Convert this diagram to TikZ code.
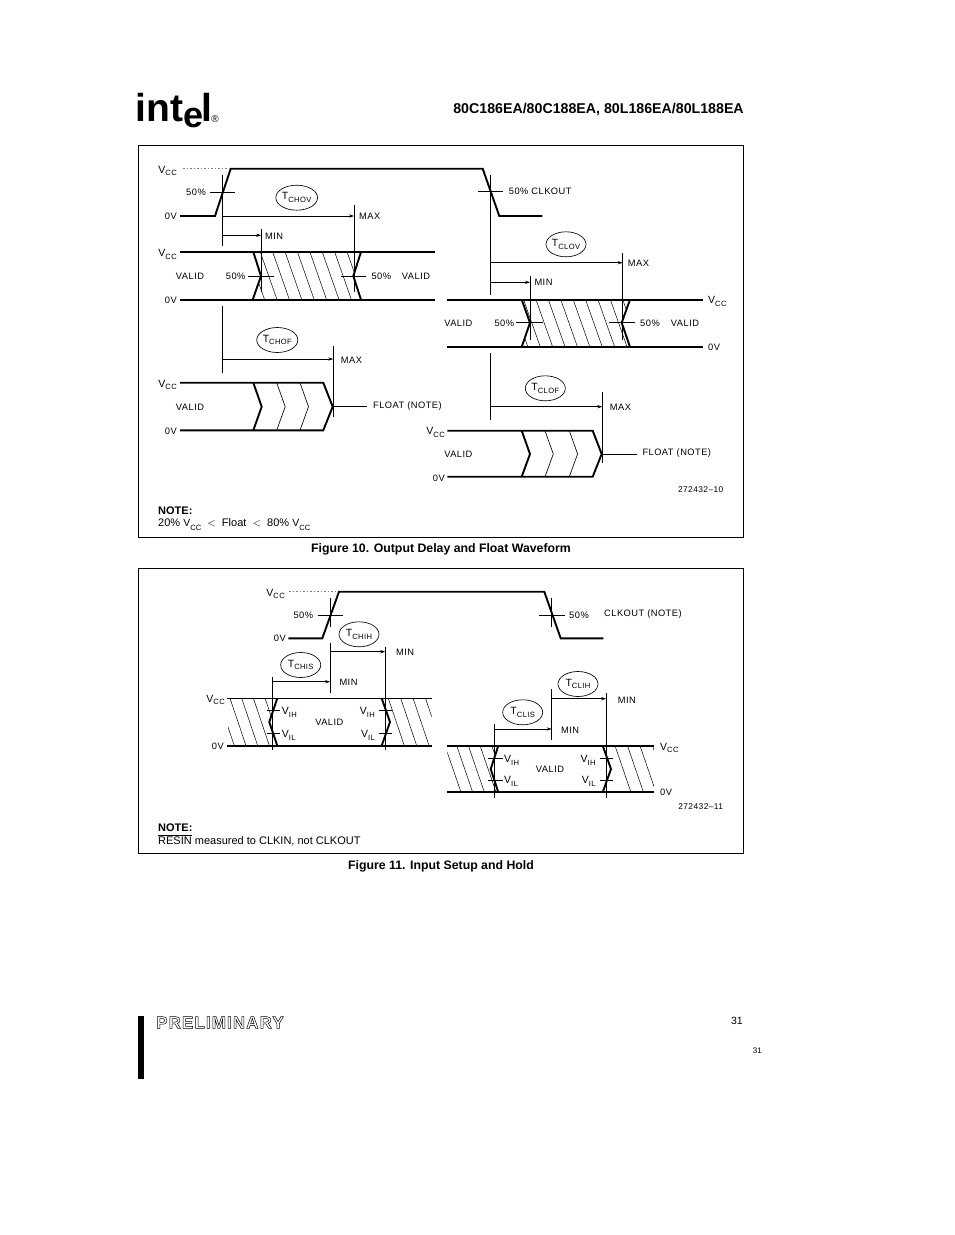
\documentclass[tikz,border=0pt]{standalone}
\usepackage{fontspec}
\setmainfont{Liberation Sans}
\newfontfamily\lblfont[LetterSpace=5]{Liberation Sans}
\newfontfamily\prelimfont[LetterSpace=6.5]{Liberation Sans}
\usetikzlibrary{arrows.meta,calc,positioning,shapes.geometric}

\newcommand{\vsub}[2]{{\fontsize{10.5}{11}\selectfont #1}\raisebox{-0.3em}{\fontsize{7.6}{8}\selectfont #2}}

\tikzset{
  wave/.style={line width=1.9pt},
  rail/.style={line width=1.9pt},
  fine/.style={line width=0.65pt},
  hatch/.style={line width=0.5pt},
  dim/.style={line width=0.65pt,-{Stealth[length=5pt,width=3.2pt]}},
  sig/.style={font=\lblfont\fontsize{9.3}{10}\selectfont,inner sep=0pt},
  sigl/.style={sig,anchor=west},
  sigr/.style={sig,anchor=east},
  oval/.style={draw,ellipse,line width=0.65pt,minimum width=40pt,minimum height=25pt,inner sep=0pt,font=\lblfont\fontsize{9}{10}\selectfont},
  body/.style={font=\fontsize{11}{13}\selectfont,inner sep=0pt,anchor=west},
  head/.style={font=\bfseries\fontsize{12.3}{14}\selectfont,inner sep=0pt},
  code/.style={font=\lblfont\fontsize{8.4}{10}\selectfont,inner sep=0pt}
}

\begin{document}
\begin{tikzpicture}[x=1pt,y=-1pt]
  \useasboundingbox (0,0) rectangle (954,1235);

  % Page header
  \node [inner sep=0pt,anchor=base west,font=\bfseries\fontsize{39}{40}\selectfont] (logoint) at (135.5,121.7) {int};
  \node [inner sep=0pt,anchor=base west,font=\bfseries\fontsize{36}{40}\selectfont] (logoe) at (183,127) {e};
  \node [inner sep=0pt,anchor=base west,font=\bfseries\fontsize{39}{40}\selectfont] (logol) at (201,121.7) {l};
  \node [inner sep=0pt,font=\fontsize{10}{11}\selectfont] (logor) at (215,119) {®};
  \node [head,anchor=east,font=\bfseries\fontsize{14.2}{16}\selectfont] (title) at (744,109.5) {80C186EA/80C188EA, 80L186EA/80L188EA};

  % Frames
  \draw [line width=0.9pt] (138.3,145.5) rectangle (743.5,537.7);
  \draw [line width=0.9pt] (138.3,568.5) rectangle (743.5,853);

  % Figure 10, clock
  \draw [wave] (180,216) -- (215,216) -- (230.7,168.7) -- (482.7,168.7) -- (499.3,216) -- (542.3,216);
  \draw [fine,gray,dash pattern=on 1.5pt off 2pt] (183,168.7) -- (229,168.7);
  \node [sigr] (vcca) at (177,171) {\vsub{V}{CC}};
  \node [sigr] (ova) at (177,216) {0V};
  \node [sig] (pcta) at (196,192) {50\%};
  \draw [fine] (210,192.3) -- (235,192.3);
  \draw [fine] (222.3,175) -- (222.3,246);
  \node [sigl] (pctb) at (508.7,191) {50\% CLKOUT};
  \draw [fine] (478.3,191.7) -- (503.3,191.7);
  \draw [fine] (490.3,175) -- (490.3,295);

  % Figure 10, T_CHOV row
  \node [oval] (chov) at (296.7,197.7) {\vsub{T}{CHOV}};
  \coordinate (chova) at (222.3,216);
  \coordinate (chovb) at (354,216);
  \coordinate (chovc) at (222.3,235.3);
  \coordinate (chovd) at (261.3,235.3);
  \draw [dim] (chova) -- (chovb);
  \draw [dim] (chovc) -- (chovd);
  \draw [fine] (354,205) -- (354,292);
  \draw [fine] (261.3,229) -- (261.3,292);
  \node [sigl] (chovmax) at (359,216) {MAX};
  \node [sigl] (chovmin) at (265,236) {MIN};
  \begin{scope}
    \clip (253.3,252) -- (261,276) -- (252.7,300) -- (361,300) -- (353.3,276) -- (361,252) -- cycle;
    \foreach \k in {-2,...,6}
      \draw [hatch] ({272.7+12.4*\k},252) -- ++(16.7,47.7);
  \end{scope}
  \draw [rail] (180,252) -- (435,252);
  \draw [rail] (180,299.7) -- (435,299.7);
  \draw [wave] (253.3,252) -- (261,276) -- (252.7,299.7);
  \draw [wave] (361,252) -- (353.3,276) -- (361,299.7);
  \draw [fine] (248,276) -- (274,276);
  \draw [fine] (340.7,276) -- (366,276);
  \node [sigr] (vccb) at (177,254.5) {\vsub{V}{CC}};
  \node [sigr] (ovb) at (177,300) {0V};
  \node [sig] (valida) at (190,276.7) {VALID};
  \node [sig] (pctc) at (235.7,276.7) {50\%};
  \node [sig] (pctd) at (381.3,276.7) {50\%};
  \node [sig] (validb) at (416,276.7) {VALID};

  % Figure 10, T_CHOF row
  \draw [fine] (222.3,306) -- (222.3,372.7);
  \node [oval] (chof) at (277.3,340) {\vsub{T}{CHOF}};
  \coordinate (chofa) at (222.3,359);
  \coordinate (chofb) at (333.3,359);
  \draw [dim] (chofa) -- (chofb);
  \draw [fine] (333.3,346) -- (333.3,417.3);
  \node [sigl] (chofmax) at (340.7,360) {MAX};
  \draw [rail] (180,382.7) -- (323.3,382.7) -- (332.7,406.7) -- (323.3,430.3) -- (180,430.3);
  \draw [wave] (253.3,382.7) -- (261.7,406.7) -- (253.3,430.3);
  \foreach \xa in {276.7,300}
    \draw [fine] (\xa,382.7) -- ({\xa+8.5},406.7) -- (\xa,430.3);
  \draw [fine] (332.7,406.7) -- (367.3,406.7);
  \node [sigr] (vccc) at (177,385) {\vsub{V}{CC}};
  \node [sigr] (ovc) at (177,431) {0V};
  \node [sig] (validc) at (190,407) {VALID};
  \node [sigl] (floata) at (373,406.5) {FLOAT (NOTE)};

  % Figure 10, T_CLOV row
  \node [oval] (clov) at (566,244.3) {\vsub{T}{CLOV}};
  \coordinate (clova) at (490.3,262.7);
  \coordinate (clovb) at (622.7,262.7);
  \coordinate (clovc) at (490.3,282.3);
  \coordinate (clovd) at (530,282.3);
  \draw [dim] (clova) -- (clovb);
  \draw [dim] (clovc) -- (clovd);
  \draw [fine] (622.7,252.7) -- (622.7,340);
  \draw [fine] (530,276) -- (530,340);
  \node [sigl] (clovmax) at (627.7,263) {MAX};
  \node [sigl] (clovmin) at (534.3,282.5) {MIN};
  \begin{scope}
    \clip (521.7,299.7) -- (530,322.7) -- (521.7,347) -- (630,347) -- (621.7,322.7) -- (630,299.7) -- cycle;
    \foreach \k in {-2,...,7}
      \draw [hatch] ({536+12.4*\k},299.7) -- ++(16.7,47.3);
  \end{scope}
  \draw [rail] (447.3,299.7) -- (703.3,299.7);
  \draw [rail] (447.3,347) -- (703.3,347);
  \draw [wave] (521.7,299.7) -- (530,322.7) -- (521.7,347);
  \draw [wave] (630,299.7) -- (621.7,322.7) -- (630,347);
  \draw [fine] (516,322.7) -- (543.3,322.7);
  \draw [fine] (609,322.7) -- (634.7,322.7);
  \node [sigl] (vccd) at (708,301.5) {\vsub{V}{CC}};
  \node [sigl] (ovd) at (708,347) {0V};
  \node [sig] (validd) at (458.3,323.7) {VALID};
  \node [sig] (pcte) at (504.3,323.7) {50\%};
  \node [sig] (pctf) at (650,323.7) {50\%};
  \node [sig] (valide) at (685,323.7) {VALID};

  % Figure 10, T_CLOF row
  \draw [fine] (490.3,353) -- (490.3,420);
  \node [oval] (clof) at (545.3,388.3) {\vsub{T}{CLOF}};
  \coordinate (clofa) at (490.3,406.7);
  \coordinate (clofb) at (602.3,406.7);
  \draw [dim] (clofa) -- (clofb);
  \draw [fine] (602.3,392.3) -- (602.3,463.3);
  \node [sigl] (clofmax) at (609.7,407) {MAX};
  \draw [rail] (447.3,430.7) -- (592.7,430.7) -- (601.7,454) -- (592.7,476.7) -- (447.3,476.7);
  \draw [wave] (521.7,430.7) -- (530,454) -- (521.7,476.7);
  \foreach \xa in {545,569.3}
    \draw [fine] (\xa,430.7) -- ({\xa+8.3},454) -- (\xa,476.7);
  \draw [fine] (601.7,454) -- (637.3,454);
  \node [sigr] (vcce) at (445,432.5) {\vsub{V}{CC}};
  \node [sigr] (ove) at (445,478) {0V};
  \node [sig] (validf) at (458.3,454) {VALID};
  \node [sigl] (floatb) at (642.3,453.5) {FLOAT (NOTE)};
  \node [code] (codea) at (700.7,490) {272432–10};

  % Figure 10, note and caption
  \node [body,font=\bfseries\fontsize{11}{13}\selectfont] (notea) at (158,511) {NOTE:};
  \node [body] (noteb) at (158,524.5) {20\% \vsub{V}{CC}\ \ $<$\ \ Float\ \ $<$\ \ 80\% \vsub{V}{CC}};
  \node [head] (capa) at (441,549) {Figure 10. Output Delay and Float Waveform};

  % Figure 11, clock
  \draw [wave] (288.3,638.3) -- (322.3,638.3) -- (339,591.7) -- (544.3,591.7) -- (560.7,638.3) -- (603.3,638.3);
  \draw [fine,gray,dash pattern=on 1.5pt off 2pt] (289,591.7) -- (338,591.7);
  \node [sigr] (vccf) at (285,594) {\vsub{V}{CC}};
  \node [sigr] (ovf) at (286,638) {0V};
  \node [sig] (pctg) at (303.3,615) {50\%};
  \draw [fine] (318.3,615) -- (343.3,615);
  \draw [fine] (330,598) -- (330,627);
  \node [sig] (pcth) at (579,615) {50\%};
  \node [sigl] (clkout) at (604,614) {CLKOUT (NOTE)};
  \draw [fine] (539,615) -- (565,615);
  \draw [fine] (551.7,598) -- (551.7,626.7);

  % Figure 11, T_CHIH and T_CHIS row
  \node [oval] (chih) at (359,634.3) {\vsub{T}{CHIH}};
  \node [oval] (chis) at (300.7,665) {\vsub{T}{CHIS}};
  \coordinate (chiha) at (330,651.7);
  \coordinate (chihb) at (385.3,651.7);
  \coordinate (chisa) at (272.7,681.7);
  \coordinate (chisb) at (330,681.7);
  \draw [dim] (chiha) -- (chihb);
  \draw [dim] (chisa) -- (chisb);
  \draw [fine] (330,642.7) -- (330,692.7);
  \draw [fine] (385.3,646.7) -- (385.3,750);
  \draw [fine] (272.7,677.3) -- (272.7,750);
  \node [sigl] (chihmin) at (396,652) {MIN};
  \node [sigl] (chismin) at (339.3,682) {MIN};
  \begin{scope}
    \clip (228,698.3) -- (277.3,698.3) -- (269.3,722) -- (277.3,745.7) -- (228,745.7) -- cycle;
    \foreach \k in {-1,...,3}
      \draw [hatch] ({230+11.7*\k},698.3) -- ++(16,47.4);
  \end{scope}
  \begin{scope}
    \clip (381.7,698.3) -- (431.7,698.3) -- (431.7,745.7) -- (381.7,745.7) -- (390,722) -- cycle;
    \foreach \k in {0,...,3}
      \draw [hatch] ({388.3+12.4*\k},698.3) -- ++(16,47.4);
  \end{scope}
  \draw [line width=1.3pt] (226.7,698.3) -- (431.7,698.3);
  \draw [rail] (226.7,745.7) -- (431.7,745.7);
  \draw [wave] (277.3,698.3) -- (269.3,722) -- (277.3,745.7);
  \draw [wave] (381.7,698.3) -- (390,722) -- (381.7,745.7);
  \foreach \ya in {710.7,733.3} {
    \draw [fine] (267.3,\ya) -- (280,\ya);
    \draw [fine] (379,\ya) -- (391.7,\ya);
  }
  \node [sigl] (viha) at (281.7,712) {\vsub{V}{IH}};
  \node [sigl] (vila) at (281.7,735) {\vsub{V}{IL}};
  \node [sigr] (vihb) at (375,712) {\vsub{V}{IH}};
  \node [sigr] (vilb) at (375,735) {\vsub{V}{IL}};
  \node [sig] (validg) at (329.3,722) {VALID};
  \node [sigr] (vccg) at (225,700) {\vsub{V}{CC}};
  \node [sigr] (ovg) at (224,746) {0V};

  % Figure 11, T_CLIH and T_CLIS row
  \node [oval] (clih) at (578,684) {\vsub{T}{CLIH}};
  \node [oval] (clis) at (522.7,712.3) {\vsub{T}{CLIS}};
  \coordinate (cliha) at (551.7,698.7);
  \coordinate (clihb) at (606,698.7);
  \coordinate (clisa) at (494.3,729);
  \coordinate (clisb) at (551.7,729);
  \draw [dim] (cliha) -- (clihb);
  \draw [dim] (clisa) -- (clisb);
  \draw [fine] (551.7,689.3) -- (551.7,740);
  \draw [fine] (606,693.3) -- (606,798.3);
  \draw [fine] (494.3,724.3) -- (494.3,798.3);
  \node [sigl] (clihmin) at (617.7,700) {MIN};
  \node [sigl] (clismin) at (561,730) {MIN};
  \begin{scope}
    \clip (447.3,745.7) -- (498.3,745.7) -- (490.7,769) -- (498.3,792.3) -- (447.3,792.3) -- cycle;
    \foreach \k in {-1,...,3}
      \draw [hatch] ({456.7+11.7*\k},745.7) -- ++(16,46.6);
  \end{scope}
  \begin{scope}
    \clip (602.7,745.7) -- (654,745.7) -- (654,792.3) -- (602.7,792.3) -- (611,769) -- cycle;
    \foreach \k in {0,...,3}
      \draw [hatch] ({615+12.5*\k},745.7) -- ++(16,46.6);
  \end{scope}
  \draw [rail] (447.3,745.7) -- (654,745.7);
  \draw [rail] (447.3,792.3) -- (654,792.3);
  \draw [wave] (498.3,745.7) -- (490.7,769) -- (498.3,792.3);
  \draw [wave] (602.7,745.7) -- (611,769) -- (602.7,792.3);
  \foreach \ya in {758.3,780} {
    \draw [fine] (488.3,\ya) -- (502.7,\ya);
    \draw [fine] (600,\ya) -- (613.3,\ya);
  }
  \node [sigl] (vihc) at (504,760) {\vsub{V}{IH}};
  \node [sigl] (vilc) at (504,781.5) {\vsub{V}{IL}};
  \node [sigr] (vihd) at (595.7,760) {\vsub{V}{IH}};
  \node [sigr] (vild) at (595.7,781.5) {\vsub{V}{IL}};
  \node [sig] (validh) at (550,769) {VALID};
  \node [sigl] (vcch) at (660,748) {\vsub{V}{CC}};
  \node [sigl] (ovh) at (660,792) {0V};
  \node [code] (codeb) at (700.7,806.7) {272432–11};

  % Figure 11, note and caption
  \node [body,font=\bfseries\fontsize{11}{13}\selectfont] (notec) at (158,828) {NOTE:};
  \node [body] (noted) at (158,840.5) {$\overline{\mbox{RESIN}}$ measured to CLKIN, not CLKOUT};
  \node [head] (capb) at (441,866) {Figure 11. Input Setup and Hold};

  % Page footer
  \fill (138,1015.7) rectangle (144.3,1079);
  \node [inner sep=0pt,anchor=west,font=\prelimfont\bfseries\fontsize{17}{19}\selectfont] (prelim) at (156,1022.5)
    {\special{pdf:literal direct 1 Tr 0.5 w}PRELIMINARY\special{pdf:literal direct 0 Tr}};
  \node [inner sep=0pt,anchor=east,font=\fontsize{10.5}{12}\selectfont] (pagea) at (743,1021) {31};
  \node [inner sep=0pt,anchor=east,font=\fontsize{8}{9}\selectfont] (pageb) at (762,1051) {31};
\end{tikzpicture}
\end{document}
